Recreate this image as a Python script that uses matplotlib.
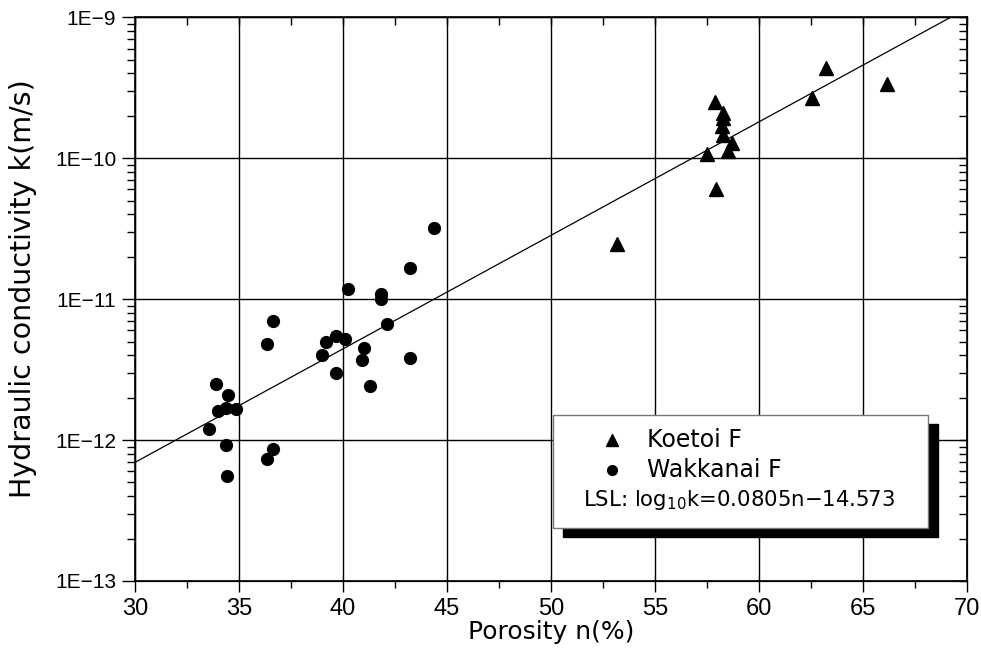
import matplotlib
matplotlib.use("Agg")
import matplotlib.pyplot as plt
import numpy as np
from matplotlib.patches import Rectangle
from matplotlib.lines import Line2D
from matplotlib.ticker import FixedLocator, LogLocator, FuncFormatter, NullFormatter

# ---- data ----
koetoi_n = [53.17, 57.95, 57.53, 58.51, 58.73, 58.27, 58.22, 58.27, 58.27, 57.90, 62.55, 63.26, 66.15]
koetoi_k = [2.47e-11, 6.0e-11, 1.07e-10, 1.13e-10, 1.29e-10, 1.46e-10, 1.68e-10, 1.92e-10,
            2.08e-10, 2.49e-10, 2.67e-10, 4.35e-10, 3.37e-10]

wakkanai_n = [44.38, 40.25, 41.81, 41.84, 43.23, 36.65, 42.11, 36.36, 39.17, 39.65, 40.10, 41.01,
              39.01, 40.90, 43.23, 39.65, 41.32, 33.90, 34.46, 33.98, 34.38, 34.86, 33.57, 34.38,
              36.65, 36.36, 34.41]
wakkanai_k = [3.2e-11, 1.18e-11, 1.09e-11, 1.0e-11, 1.67e-11, 7.0e-12, 6.7e-12, 4.8e-12, 5.0e-12,
              5.5e-12, 5.2e-12, 4.5e-12, 4.0e-12, 3.7e-12, 3.85e-12, 3.0e-12, 2.4e-12, 2.5e-12,
              2.1e-12, 1.6e-12, 1.7e-12, 1.65e-12, 1.2e-12, 0.92e-12, 0.87e-12, 0.73e-12, 0.56e-12]

lsl_slope = 0.0805
lsl_intercept = -14.573

x_ticks = [30, 35, 40, 45, 50, 55, 60, 65, 70]
y_exponents = [-13, -12, -11, -10, -9]

series_labels = ["Koetoi F", "Wakkanai F"]
lsl_label = "LSL: log$_{10}$k=0.0805n\u221214.573"
x_label = "Porosity n(%)"
y_label = "Hydraulic conductivity k(m/s)"

# ---- figure ----
W, H = 981, 671
fig = plt.figure(figsize=(W / 100, H / 100), dpi=100)
plt.rcParams['mathtext.fontset'] = 'custom'
plt.rcParams['mathtext.rm'] = 'DejaVu Sans'
plt.rcParams['mathtext.default'] = 'regular'

L, R, T, B = 135, 966.6, 17.3, 581
ax = fig.add_axes([L / W, 1 - B / H, (R - L) / W, (B - T) / H])
ax.set_xlim(x_ticks[0], x_ticks[-1])
ax.set_yscale('log')
ax.set_ylim(10.0 ** y_exponents[0], 10.0 ** y_exponents[-1])

ax.xaxis.set_major_locator(FixedLocator(x_ticks))
ax.xaxis.set_minor_locator(FixedLocator([t + 2.5 for t in x_ticks[:-1]]))
ax.yaxis.set_major_locator(FixedLocator([10.0 ** e for e in y_exponents]))
ax.yaxis.set_minor_locator(LogLocator(base=10, subs=np.arange(2, 10)))
ax.yaxis.set_minor_formatter(NullFormatter())
ax.yaxis.set_major_formatter(FuncFormatter(lambda v, p: "1E\u2212%d" % round(-np.log10(v))))

ax.grid(True, which='major', color='black', linewidth=1.0)
for s in ax.spines.values():
    s.set_linewidth(1.2)

ax.tick_params(axis='x', which='major', direction='out', length=8, width=1.0, pad=4,
               labelsize=17, top=False)
ax.tick_params(axis='x', which='minor', direction='out', length=5, width=1.0, top=False)
ax.tick_params(axis='y', which='major', direction='out', length=9.5, width=1.0, pad=4,
               labelsize=15, right=False)
ax.tick_params(axis='y', which='minor', direction='out', length=6, width=1.0, right=False)
for lab in ax.get_xticklabels() + ax.get_yticklabels():
    lab.set_family('Liberation Sans')

# top / right inward minor ticks
axt = ax.twiny()
axt.set_xlim(ax.get_xlim())
axt.xaxis.set_major_locator(FixedLocator(x_ticks))
axt.xaxis.set_minor_locator(FixedLocator([t + 2.5 for t in x_ticks[:-1]]))
axt.tick_params(axis='x', which='both', direction='in', length=6, width=1.0, labeltop=False)
axr = ax.twinx()
axr.set_yscale('log')
axr.set_ylim(ax.get_ylim())
axr.yaxis.set_major_locator(FixedLocator([10.0 ** e for e in y_exponents]))
axr.yaxis.set_minor_locator(LogLocator(base=10, subs=np.arange(2, 10)))
axr.tick_params(axis='y', which='both', direction='in', length=6, width=1.0,
                labelright=False)
axr.yaxis.set_minor_formatter(NullFormatter())

# data
ax.plot(koetoi_n, koetoi_k, linestyle='none', marker='^', markersize=10,
        color='black', zorder=5, clip_on=False)
ax.plot(wakkanai_n, wakkanai_k, linestyle='none', marker='o', markersize=8.5,
        color='black', zorder=5)
n_line = np.array([x_ticks[0], x_ticks[-1]], dtype=float)
ax.plot(n_line, 10.0 ** (lsl_slope * n_line + lsl_intercept), color='black',
        linewidth=0.9, zorder=4)


def fx(x):
    return x / W


def fy(y):
    return 1 - y / H


fig.text(fx(551), fy(632), x_label, fontsize=18, family='DejaVu Sans',
         ha='center', va='center')
fig.text(fx(23), fy(289), y_label, fontsize=20.5, family='DejaVu Sans',
         ha='center', va='center', rotation=90)

# legend box with shadow
bx0, by0, bx1, by1 = 553, 415, 928, 528
sh = 10
fig.add_artist(Rectangle((fx(bx0 + sh), fy(by1 + 9)), (bx1 - bx0) / W, (by1 - by0) / H,
                         transform=fig.transFigure, facecolor='black', edgecolor='black',
                         zorder=10))
fig.add_artist(Rectangle((fx(bx0), fy(by1)), (bx1 - bx0) / W, (by1 - by0) / H,
                         transform=fig.transFigure, facecolor='white', edgecolor='#777777',
                         linewidth=1.0, zorder=11))
fig.add_artist(Line2D([fx(612)], [fy(440)], marker='^', markersize=9, color='black',
                      linestyle='none', transform=fig.transFigure, zorder=12))
fig.add_artist(Line2D([fx(612)], [fy(470)], marker='o', markersize=7, color='black',
                      linestyle='none', transform=fig.transFigure, zorder=12))
fig.text(fx(647), fy(440), series_labels[0], fontsize=17, family='DejaVu Sans',
         va='center', ha='left', zorder=12)
fig.text(fx(647), fy(470), series_labels[1], fontsize=17, family='DejaVu Sans',
         va='center', ha='left', zorder=12)
fig.text(fx(583), fy(500), lsl_label, fontsize=15.3, family='DejaVu Sans',
         va='center', ha='left', zorder=12)

fig.savefig("out.png", dpi=100)
